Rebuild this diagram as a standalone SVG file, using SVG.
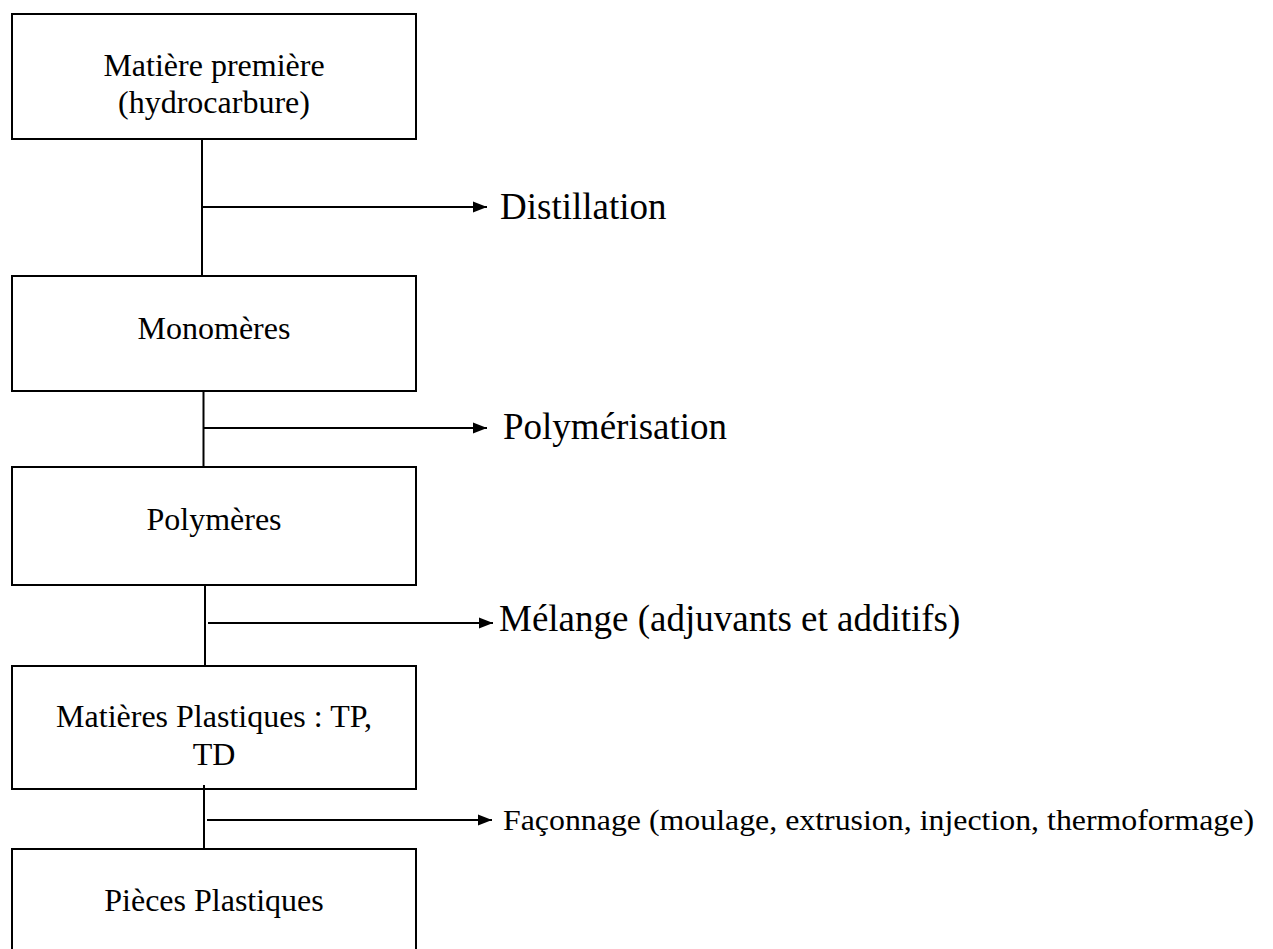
<svg xmlns="http://www.w3.org/2000/svg" width="1273" height="949" viewBox="0 0 1273 949">
<style>
.box{fill:#fff;stroke:#000;stroke-width:2}
.t{font-family:"Liberation Serif","Times New Roman",serif;font-size:32px;fill:#000;text-anchor:middle}
.l{font-family:"Liberation Serif","Times New Roman",serif;font-size:37px;fill:#000}
.c{stroke:#000;stroke-width:2;fill:none}
</style>
<defs>
<marker id="arr" markerUnits="userSpaceOnUse" markerWidth="16" markerHeight="14" refX="14" refY="7" orient="auto">
<path d="M0,1.5 L14,7 L0,12.5 Z" fill="#000"/>
</marker>
</defs>
<rect width="1273" height="949" fill="#fff"/>
<g id="n1">
<rect class="box" x="12" y="14" width="404" height="125"/>
<text class="t" x="214" y="76">Matière première</text>
<text class="t" x="214" y="113">(hydrocarbure)</text>
</g>
<g id="n2">
<rect class="box" x="12" y="276" width="404" height="115"/>
<text class="t" x="214" y="339">Monomères</text>
</g>
<g id="n3">
<rect class="box" x="12" y="467" width="404" height="118"/>
<text class="t" x="214" y="530">Polymères</text>
</g>
<g id="n4">
<rect class="box" x="12" y="666" width="404" height="123"/>
<text class="t" x="214" y="727">Matières Plastiques : TP,</text>
<text class="t" x="214" y="765">TD</text>
</g>
<g id="n5">
<rect class="box" x="12" y="849" width="404" height="120"/>
<text class="t" x="214" y="911">Pièces Plastiques</text>
</g>
<g id="connectors">
<line class="c" x1="202" y1="139" x2="202" y2="276"/>
<line class="c" x1="202" y1="207" x2="487" y2="207" marker-end="url(#arr)"/>
<line class="c" x1="203.5" y1="391" x2="203.5" y2="467"/>
<line class="c" x1="203.5" y1="428" x2="487" y2="428" marker-end="url(#arr)"/>
<line class="c" x1="205" y1="585" x2="205" y2="666"/>
<line class="c" x1="208" y1="623" x2="493" y2="623" marker-end="url(#arr)"/>
<line class="c" x1="204" y1="785" x2="204" y2="849"/>
<line class="c" x1="207" y1="820" x2="492" y2="820" marker-end="url(#arr)"/>
</g>
<g id="labels">
<text class="l" x="500" y="219">Distillation</text>
<text class="l" x="503" y="439">Polymérisation</text>
<text class="l" x="499" y="631">Mélange (adjuvants et additifs)</text>
<text class="l" x="503" y="830" style="font-size:30px" textLength="751" lengthAdjust="spacingAndGlyphs">Façonnage (moulage, extrusion, injection, thermoformage)</text>
</g>
</svg>
